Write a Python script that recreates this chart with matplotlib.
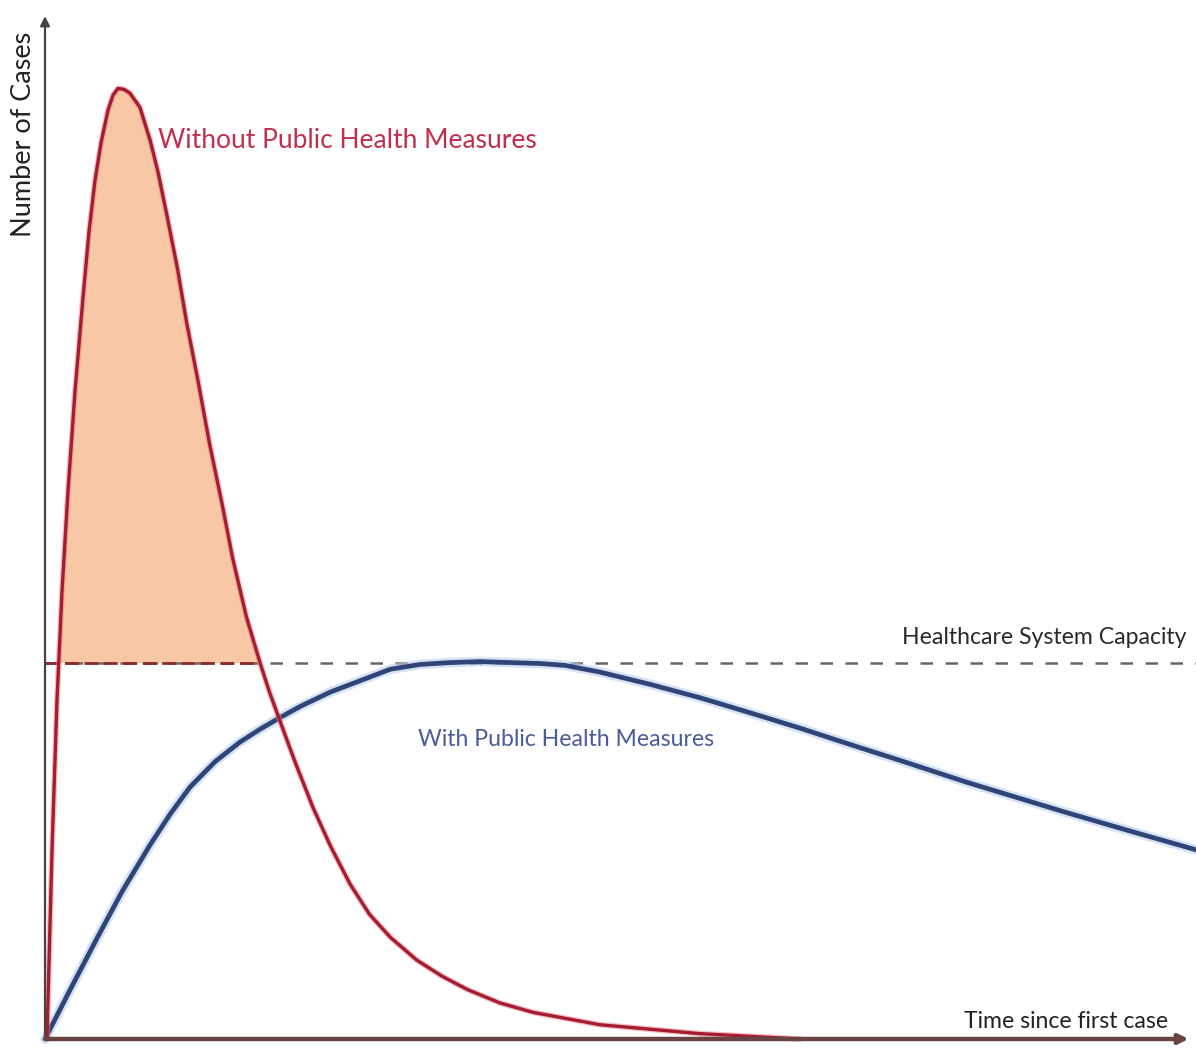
import numpy as np
import matplotlib.pyplot as plt

# curve without public health measures (time, number of cases)
t_without = [0.17, 0.61, 1.04, 1.48, 2.0, 2.61, 3.30, 3.82, 4.34, 4.87, 5.47,
             5.91, 6.34, 6.86, 7.38, 8.25, 9.12, 9.82, 10.6, 11.5, 12.3, 13.3,
             14.3, 15.4, 16.3, 17.5, 18.7, 19.5, 20.4, 21.8, 23.3, 24.8, 26.5,
             28.2, 30.0, 32.3, 34.5, 36.7, 39.5, 42.4, 48.2, 56.9, 65.6]
c_without = [0, 19.9, 35.6, 47.2, 57.7, 68.2, 78.0, 84.9, 90.3, 94.3, 97.7,
             99.3, 100, 99.9, 99.5, 98.0, 94.6, 91.2, 86.6, 81.1, 75.4, 69.2,
             62.6, 56.2, 50.6, 44.4, 39.5, 36.5, 33.5, 28.9, 24.3, 20.3, 16.3,
             13.1, 10.7, 8.3, 6.6, 5.2, 3.8, 2.8, 1.5, 0.56, 0]

# curve with public health measures
t_with = [0, 2.17, 4.52, 6.69, 9.12, 10.9, 12.6, 14.8, 16.9, 18.7, 20.4, 22.2,
          24.8, 27.4, 30.0, 32.6, 35.2, 37.8, 40.4, 43.0, 45.2, 48.2, 52.6,
          56.9, 61.3, 65.6, 69.9, 74.3, 80.1, 88.8, 94.2, 100]
c_with = [0, 5.15, 10.6, 15.5, 20.4, 23.7, 26.5, 29.2, 31.2, 32.6, 33.8, 35.0,
          36.5, 37.7, 38.9, 39.4, 39.6, 39.7, 39.6, 39.5, 39.3, 38.6, 37.3,
          35.9, 34.3, 32.7, 31.0, 29.3, 27.0, 23.8, 21.9, 19.9]

capacity = 39.6

W, H = 1196, 1052
fig = plt.figure(figsize=(W / 100, H / 100), dpi=100)
ax = fig.add_axes([0, 0, 1, 1])
ax.set_xlim(-3.91, 100)
ax.set_ylim(-1.37, 109.3)
ax.axis("off")

t_w = np.array(t_without)
c_w = np.array(c_without)

# area above capacity
ax.fill_between(t_w, c_w, capacity, where=c_w >= capacity, interpolate=True,
                color="#f7c7a6", lw=0, zorder=1)

# capacity line: gray dashed, dark red under the filled area
ax.plot([0, 100], [capacity, capacity], color="#666666", lw=1.8,
        dashes=(5, 5), zorder=2)
peak = int(np.argmax(c_w))
t_right = np.interp(capacity, c_w[peak:][::-1], t_w[peak:][::-1])
ax.plot([0, t_right], [capacity, capacity], color="#8a2a2a", lw=2.0,
        dashes=(5, 2), zorder=2)

# curves
ax.plot(t_with, c_with, color="#b8d0ee", lw=7, alpha=0.6, zorder=3,
        solid_capstyle="round", solid_joinstyle="round")
ax.plot(t_with, c_with, color="#2f4578", lw=3.4, zorder=4,
        solid_capstyle="round", solid_joinstyle="round")
ax.plot(t_without, c_without, color="#e8808c", lw=4.2, alpha=0.5, zorder=5,
        solid_capstyle="round", solid_joinstyle="round")
ax.plot(t_without, c_without, color="#a51d2f", lw=2.4, zorder=6,
        solid_capstyle="round", solid_joinstyle="round")

# axes with arrows
ax.annotate("", xy=(0, 107.9), xytext=(0, -0.3),
            arrowprops=dict(arrowstyle="-|>", color="#444444", lw=1.6,
                            mutation_scale=14), zorder=7)
ax.annotate("", xy=(99.6, 0), xytext=(-0.2, 0),
            arrowprops=dict(arrowstyle="-|>", color="#6a4444", lw=3.2,
                            mutation_scale=14), zorder=7)

font = "Lato"
fig.text(24 / W, 1 - 134 / H, "Number of Cases", rotation=90, ha="center",
         va="center", fontsize=19.5, color="#222222", family=font)
fig.text(158 / W, 1 - 140 / H, "Without Public Health Measures", ha="left",
         va="center", fontsize=19, color="#c0304e", family=font)
fig.text(1187 / W, 1 - 638 / H, "Healthcare System Capacity", ha="right",
         va="center", fontsize=16.6, color="#2a2a2a", family=font)
fig.text(418 / W, 1 - 740 / H, "With Public Health Measures", ha="left",
         va="center", fontsize=16.6, color="#4a5c9a", family=font)
fig.text(1168 / W, 1 - 1021 / H, "Time since first case", ha="right",
         va="center", fontsize=16.6, color="#222222", family=font)

fig.savefig("out.png", dpi=100)
